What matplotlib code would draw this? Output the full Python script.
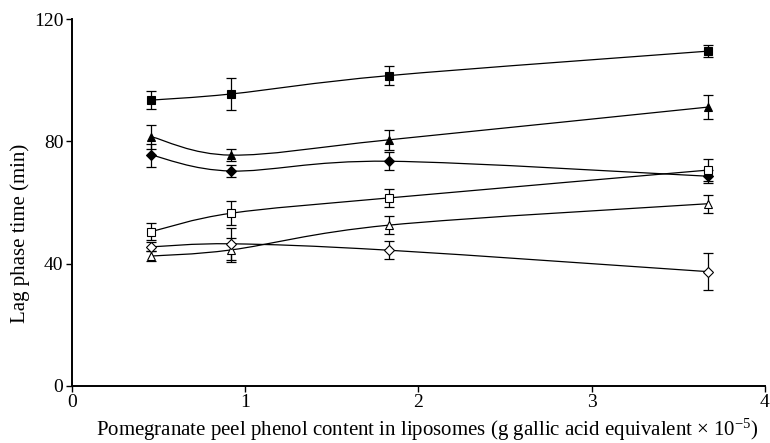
import matplotlib
matplotlib.use("Agg")
import matplotlib.pyplot as plt
import numpy as np
from matplotlib.path import Path
from matplotlib.patches import PathPatch

plt.rcParams.update({
    "font.family": "Liberation Serif",
    "mathtext.fontset": "custom",
    "mathtext.rm": "Liberation Serif",
    "mathtext.it": "Liberation Serif:italic",
    "axes.spines.top": False,
    "axes.spines.right": False,
})

phenol = [0.46, 0.92, 1.83, 3.67]

sq_filled = [93.5, 95.5, 101.5, 109.5]
sq_filled_err = [2.9, 5.1, 3.2, 1.9]
tri_filled = [81.5, 75.5, 80.5, 91.2]
tri_filled_err = [4.0, 1.9, 3.3, 4.0]
dia_filled = [75.5, 70.3, 73.5, 68.6]
dia_filled_err = [3.8, 2.0, 3.0, 2.1]
sq_open = [50.5, 56.5, 61.5, 70.6]
sq_open_err = [2.7, 4.0, 3.0, 3.7]
tri_open = [42.5, 44.5, 52.6, 59.6]
tri_open_err = [1.7, 4.0, 2.9, 3.0]
dia_open = [45.5, 46.5, 44.4, 37.4]
dia_open_err = [1.5, 5.3, 3.0, 6.0]

series = [
    (sq_filled, sq_filled_err, "s", "black"),
    (tri_filled, tri_filled_err, "^", "black"),
    (dia_filled, dia_filled_err, "D", "black"),
    (sq_open, sq_open_err, "s", "white"),
    (tri_open, tri_open_err, "^", "white"),
    (dia_open, dia_open_err, "D", "white"),
]


def smooth_path(x, y):
    # catmull-rom style bezier through the points, like a spreadsheet smoothed line
    pts = np.column_stack([x, y]).astype(float)
    verts = [pts[0]]
    codes = [Path.MOVETO]
    n = len(pts)
    for i in range(n - 1):
        p0 = pts[max(i - 1, 0)]
        p1 = pts[i]
        p2 = pts[i + 1]
        p3 = pts[min(i + 2, n - 1)]
        c1 = p1 + (p2 - p0) / 6.0
        c2 = p2 - (p3 - p1) / 6.0
        verts += [c1, c2, p2]
        codes += [Path.CURVE4] * 3
    return Path(verts, codes)


fig, ax = plt.subplots(figsize=(7.7, 4.43), dpi=100)
fig.subplots_adjust(left=0.0931, right=0.9935, bottom=0.1287, top=0.957)

for vals, err, marker, face in series:
    ax.add_patch(PathPatch(smooth_path(phenol, vals), facecolor="none", edgecolor="black", lw=0.9, zorder=2))
    ax.errorbar(phenol, vals, yerr=err, fmt="none", ecolor="black", elinewidth=0.9, capsize=3.5, capthick=0.9, zorder=3)
    ms = 5.0 if marker == "D" else 6.0
    ax.plot(phenol, vals, linestyle="none", marker=marker, markersize=ms, markerfacecolor=face,
            markeredgecolor="black", markeredgewidth=0.8, zorder=4)

ax.set_xlim(0, 4)
ax.set_ylim(0, 120)
ax.set_xticks([0, 1, 2, 3, 4])
ax.set_yticks([0, 40, 80, 120])
ax.tick_params(direction="out", length=4, width=1.0, labelsize=14, pad=2)
for side in ("left", "bottom"):
    ax.spines[side].set_linewidth(1.4)
ax.set_ylabel("Lag phase time (min)", fontsize=15)
ax.yaxis.set_label_coords(-0.060, 0.417)
ax.set_xlabel("Pomegranate peel phenol content in liposomes (g gallic acid equivalent \u00d7 10$^{-5}$)",
              fontsize=15)
ax.xaxis.set_label_coords(0.513, -0.084)

fig.savefig("out.png", dpi=100)
